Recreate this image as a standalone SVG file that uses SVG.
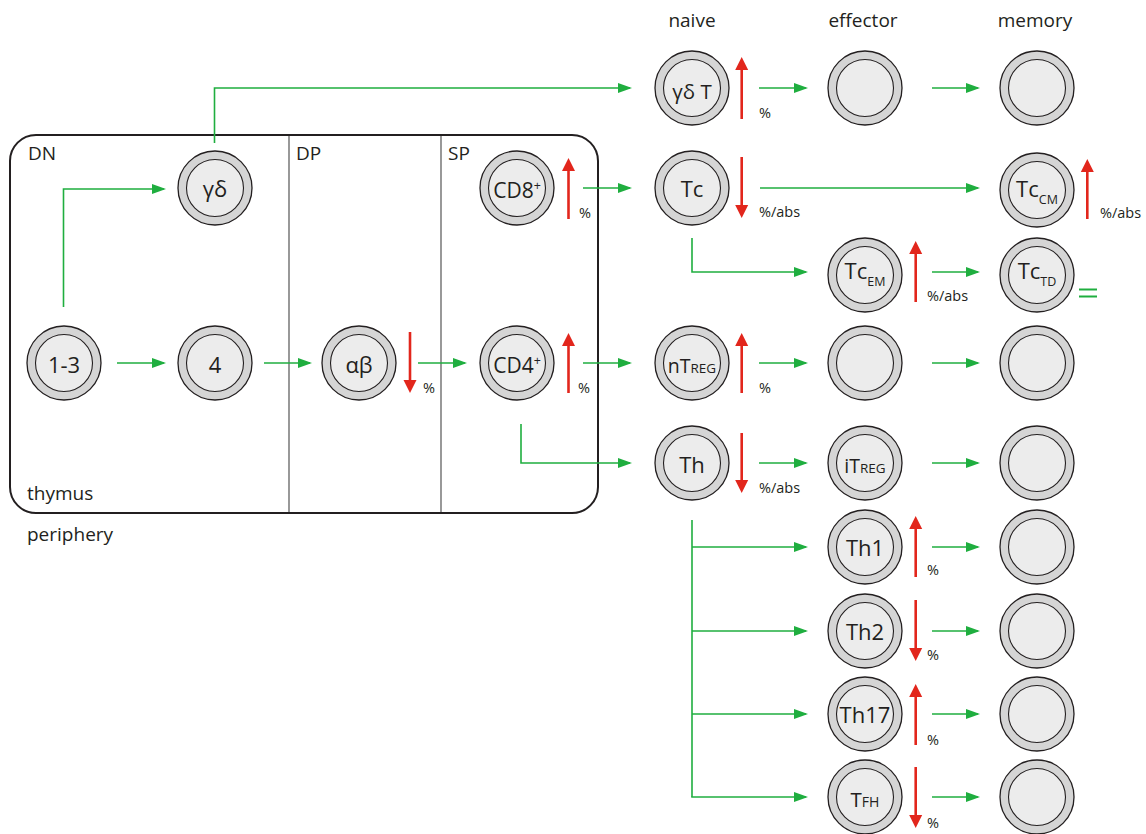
<svg xmlns="http://www.w3.org/2000/svg" width="1146" height="834" viewBox="0 0 1146 834">
<defs>
<style>
text{font-family:"Open Sans","Noto Sans","Liberation Sans",sans-serif;fill:#231f20}
.lbl{font-size:19px}
.nt{font-size:22px;text-anchor:middle}
.pc{font-size:14.5px}
.sm{font-size:12.5px}
.o{fill:#d5d5d5;stroke:#231f20;stroke-width:1.3}
.i{fill:#ececec;stroke:#231f20;stroke-width:1.1}
.g{fill:none;stroke:#1fae3f;stroke-width:1.6;marker-end:url(#ga)}
.r{stroke:#e2261c;stroke-width:2.6}
.rh{fill:#e2261c}
</style>
<marker id="ga" markerUnits="userSpaceOnUse" markerWidth="14" markerHeight="10" refX="12" refY="5" orient="auto">
<path d="M0,0 L14,5 L0,10 z" fill="#1fae3f"/>
</marker>
<symbol id="cell" overflow="visible">
<circle class="o" cx="0" cy="0" r="37"/>
<circle class="i" cx="0" cy="0" r="28.5"/>
</symbol>
</defs>
<rect width="1146" height="834" fill="#ffffff"/>

<g id="thymus-box">
<rect x="10" y="135" width="588" height="378" rx="26" ry="26" fill="none" stroke="#231f20" stroke-width="2"/>
<line x1="289" y1="136" x2="289" y2="512" stroke="#6d6d6d" stroke-width="1.4"/>
<line x1="441" y1="136" x2="441" y2="512" stroke="#6d6d6d" stroke-width="1.4"/>
<text class="lbl" x="28" y="160">DN</text>
<text class="lbl" x="296" y="160">DP</text>
<text class="lbl" x="448" y="160">SP</text>
<text class="lbl" x="27" y="500">thymus</text>
</g>
<text class="lbl" x="27" y="541">periphery</text>
<g id="headers">
<text class="lbl" x="692" y="27" text-anchor="middle">naive</text>
<text class="lbl" x="863" y="27" text-anchor="middle">effector</text>
<text class="lbl" x="1035" y="27" text-anchor="middle">memory</text>
</g>

<g id="connectors">
<line class="g" x1="117" y1="363" x2="164" y2="363"/>
<line class="g" x1="264" y1="363" x2="310" y2="363"/>
<line class="g" x1="418" y1="363" x2="465" y2="363"/>
<line class="g" x1="583" y1="363" x2="630" y2="363"/>
<path class="g" d="M63.5,307 V189 H164"/>
<path class="g" d="M214.5,143 V88 H630"/>
<line class="g" x1="583" y1="188" x2="630" y2="188"/>
<path class="g" d="M521,424 V463 H630"/>
<line class="g" x1="759" y1="88" x2="806" y2="88"/>
<line class="g" x1="932" y1="88" x2="978" y2="88"/>
<line class="g" x1="760" y1="188" x2="978" y2="188"/>
<path class="g" d="M692,238 V272 H806"/>
<line class="g" x1="932" y1="272" x2="978" y2="272"/>
<line class="g" x1="759" y1="363" x2="806" y2="363"/>
<line class="g" x1="932" y1="363" x2="978" y2="363"/>
<line class="g" x1="759" y1="463" x2="806" y2="463"/>
<line class="g" x1="932" y1="463" x2="978" y2="463"/>
<line x1="692" y1="520" x2="692" y2="797" stroke="#1fae3f" stroke-width="1.6"/>
<line class="g" x1="692" y1="547" x2="806" y2="547"/>
<line class="g" x1="692" y1="631" x2="806" y2="631"/>
<line class="g" x1="692" y1="714" x2="806" y2="714"/>
<line class="g" x1="691.2" y1="797" x2="806" y2="797"/>
<line class="g" x1="932" y1="547" x2="978" y2="547"/>
<line class="g" x1="932" y1="631" x2="978" y2="631"/>
<line class="g" x1="932" y1="714" x2="978" y2="714"/>
<line class="g" x1="932" y1="797" x2="978" y2="797"/>
<g id="equal" stroke="#1fae3f" stroke-width="2">
<line x1="1079" y1="289.5" x2="1097" y2="289.5"/>
<line x1="1079" y1="296.5" x2="1097" y2="296.5"/>
</g>
</g>

<g id="changes">
<g><line class="r" x1="410" y1="332" x2="410" y2="382"/><polygon class="rh" points="403.5,380 416.5,380 410,393"/><text class="pc" x="423" y="393">%</text></g>
<g><line class="r" x1="568.5" y1="219" x2="568.5" y2="169"/><polygon class="rh" points="562,171 575,171 568.5,158"/><text class="pc" x="579" y="218">%</text></g>
<g><line class="r" x1="568.5" y1="393" x2="568.5" y2="344"/><polygon class="rh" points="562,346 575,346 568.5,333"/><text class="pc" x="578" y="393">%</text></g>
<g><line class="r" x1="741.7" y1="119" x2="741.7" y2="68"/><polygon class="rh" points="735.2,70 748.2,70 741.7,57"/><text class="pc" x="759" y="118">%</text></g>
<g><line class="r" x1="741.7" y1="157" x2="741.7" y2="207"/><polygon class="rh" points="735.2,205 748.2,205 741.7,218"/><text class="pc" x="759" y="217">%/abs</text></g>
<g><line class="r" x1="1087.3" y1="219" x2="1087.3" y2="170"/><polygon class="rh" points="1080.8,172 1093.8,172 1087.3,159"/><text class="pc" x="1100" y="218">%/abs</text></g>
<g><line class="r" x1="915.7" y1="302" x2="915.7" y2="252"/><polygon class="rh" points="909.2,254 922.2,254 915.7,241"/><text class="pc" x="927" y="301">%/abs</text></g>
<g><line class="r" x1="741.7" y1="393" x2="741.7" y2="344"/><polygon class="rh" points="735.2,346 748.2,346 741.7,333"/><text class="pc" x="759" y="393">%</text></g>
<g><line class="r" x1="741.7" y1="433" x2="741.7" y2="482"/><polygon class="rh" points="735.2,480 748.2,480 741.7,493"/><text class="pc" x="759" y="493">%/abs</text></g>
<g><line class="r" x1="915.7" y1="577" x2="915.7" y2="527"/><polygon class="rh" points="909.2,529 922.2,529 915.7,516"/><text class="pc" x="927" y="575">%</text></g>
<g><line class="r" x1="915.7" y1="600" x2="915.7" y2="650"/><polygon class="rh" points="909.2,648 922.2,648 915.7,661"/><text class="pc" x="927" y="660">%</text></g>
<g><line class="r" x1="915.7" y1="745" x2="915.7" y2="695"/><polygon class="rh" points="909.2,697 922.2,697 915.7,684"/><text class="pc" x="927" y="745">%</text></g>
<g><line class="r" x1="915.7" y1="767" x2="915.7" y2="817"/><polygon class="rh" points="909.2,815 922.2,815 915.7,828"/><text class="pc" x="927" y="828">%</text></g>
</g>

<g id="n13"><use href="#cell" x="64" y="363"/><text class="nt" x="64" y="373">1-3</text></g>
<g id="n4"><use href="#cell" x="215" y="363"/><text class="nt" x="215" y="373">4</text></g>
<g id="ngd"><use href="#cell" x="215" y="188"/><text class="nt" x="215" y="197">γδ</text></g>
<g id="nab"><use href="#cell" x="359" y="363"/><text class="nt" x="359" y="373">αβ</text></g>
<g id="ncd8"><use href="#cell" x="517" y="188"/><text class="nt" x="517" y="198" style="font-size:21px">CD8<tspan class="sm" dy="-8">+</tspan></text></g>
<g id="ncd4"><use href="#cell" x="517" y="363"/><text class="nt" x="517" y="373" style="font-size:21px">CD4<tspan class="sm" dy="-8">+</tspan></text></g>
<g id="ngdt"><use href="#cell" x="692" y="88"/><text class="nt" x="692" y="99" style="font-size:20.5px">γδ T</text></g>
<g id="ntc"><use href="#cell" x="692" y="188"/><text class="nt" x="692" y="197">Tc</text></g>
<g id="ntreg"><use href="#cell" x="692" y="363"/><text class="nt" x="692" y="373" style="font-size:19.5px">nT<tspan style="font-size:13.5px">REG</tspan></text></g>
<g id="nth"><use href="#cell" x="692" y="463"/><text class="nt" x="692" y="473">Th</text></g>
<g id="eff1"><use href="#cell" x="865" y="88"/></g>
<g id="ntcem"><use href="#cell" x="865" y="275"/><text class="nt" x="865" y="279">Tc<tspan class="sm" dy="7">EM</tspan></text></g>
<g id="eff2"><use href="#cell" x="865" y="363"/></g>
<g id="nitreg"><use href="#cell" x="865" y="463"/><text class="nt" x="865" y="473" style="font-size:19.5px">iT<tspan style="font-size:13.5px">REG</tspan></text></g>
<g id="nth1"><use href="#cell" x="865" y="547"/><text class="nt" x="865" y="556">Th1</text></g>
<g id="nth2"><use href="#cell" x="865" y="631"/><text class="nt" x="865" y="640">Th2</text></g>
<g id="nth17"><use href="#cell" x="865" y="714"/><text class="nt" x="865" y="723">Th17</text></g>
<g id="ntfh"><use href="#cell" x="865" y="797"/><text class="nt" x="865" y="807" style="font-size:20.5px">T<tspan style="font-size:14px">FH</tspan></text></g>
<g id="mem1"><use href="#cell" x="1037" y="88"/></g>
<g id="ntccm"><use href="#cell" x="1037" y="190"/><text class="nt" x="1037" y="197">Tc<tspan class="sm" dy="7">CM</tspan></text></g>
<g id="ntctd"><use href="#cell" x="1037" y="275"/><text class="nt" x="1037" y="279">Tc<tspan class="sm" dy="7">TD</tspan></text></g>
<g id="mem3"><use href="#cell" x="1037" y="363"/></g>
<g id="mem4"><use href="#cell" x="1037" y="463"/></g>
<g id="mem5"><use href="#cell" x="1037" y="547"/></g>
<g id="mem6"><use href="#cell" x="1037" y="631"/></g>
<g id="mem7"><use href="#cell" x="1037" y="714"/></g>
<g id="mem8"><use href="#cell" x="1037" y="797"/></g>
</svg>
